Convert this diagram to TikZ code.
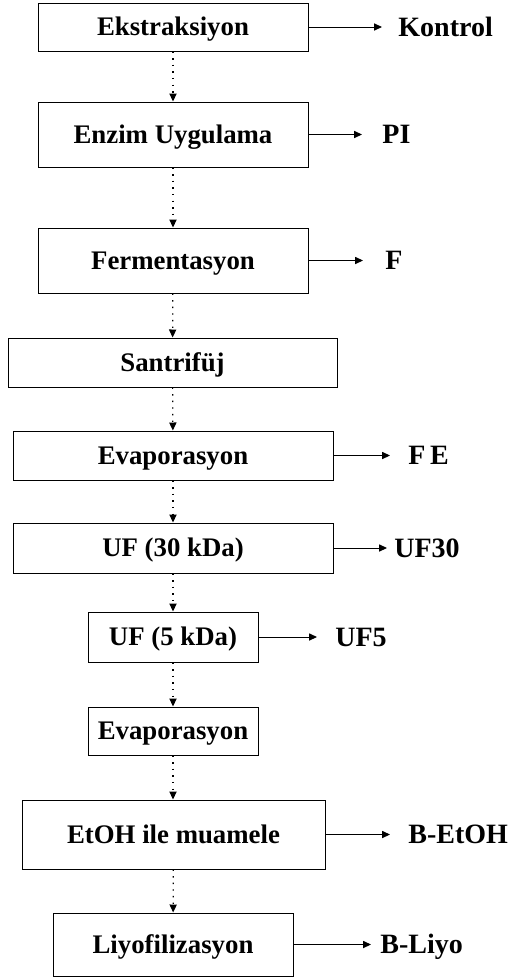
\documentclass[tikz,border=0pt]{standalone}
\usepackage{fontspec}
\setmainfont{Liberation Serif}
\usetikzlibrary{arrows.meta}

\tikzset{
    box/.style={draw, line width=0.5pt, inner sep=0pt,
        font=\fontsize{13.4pt}{16pt}\selectfont\bfseries, text height=8.9pt, text depth=0pt},
    result/.style={anchor=west, inner sep=0pt,
        font=\fontsize{14pt}{17pt}\selectfont\bfseries, text height=9.3pt, text depth=0pt},
    flow/.style={line width=0.6pt, dash pattern=on 0.7pt off 2.6pt,
        -{Triangle[length=4pt,width=3.6pt]}},
    yield/.style={line width=0.5pt, -{Triangle[length=4pt,width=3.6pt]}}
}

\begin{document}
\begin{tikzpicture}[x=0.5pt, y=-0.5pt]
            \useasboundingbox (0,0) rectangle (520,980);

            % process steps
            \node (ekstr) at (173,27) [box, minimum width=135pt, minimum height=24pt] {Ekstraksiyon};
            \node (enzim) at (173,134.5) [box, minimum width=135pt, minimum height=32.5pt] {Enzim Uygulama};
            \node (ferm) at (173,260.5) [box, minimum width=135pt, minimum height=32.5pt] {Fermentasyon};
            \node (santr) at (172.5,362.5) [box, minimum width=164.5pt, minimum height=24.5pt] {Santrifüj};
            \node (evap1) at (173,455.5) [box, minimum width=160pt, minimum height=24.5pt] {Evaporasyon};
            \node (uf30) at (173,548) [box, minimum width=160pt, minimum height=25pt] {UF (30 kDa)};
            \node (uf5) at (173,637) [box, minimum width=85pt, minimum height=25pt] {UF (5 kDa)};
            \node (evap2) at (173,731) [box, minimum width=85pt, minimum height=24pt] {Evaporasyon};
            \node (etoh) at (173.5,834.5) [box, minimum width=151.5pt, minimum height=34.5pt] {EtOH ile muamele};
            \node (liyo) at (173,944.5) [box, minimum width=120pt, minimum height=31.5pt] {Liyofilizasyon};

            % samples taken out
            \node (kontrol) at (398,27) [result] {Kontrol};
            \node (pi) at (382,134.5) [result] {PI};
            \node (f) at (385,260.5) [result] {F};
            \node (fe) at (408,455.5) [result] {F\,E};
            \node (suf30) at (394,548) [result] {UF30};
            \node (suf5) at (335,637) [result] {UF5};
            \node (betoh) at (408,834.5) [result] {B-EtOH};
            \node (bliyo) at (380,944.5) [result] {B-Liyo};

            \draw[flow] (ekstr) -- (enzim);
            \draw[flow] (enzim) -- (ferm);
            \draw[flow] (ferm) -- (santr);
            \draw[flow] (santr) -- (evap1);
            \draw[flow] (evap1) -- (uf30);
            \draw[flow] (uf30) -- (uf5);
            \draw[flow] (uf5) -- (evap2);
            \draw[flow] (evap2) -- (etoh.north -| evap2);
            \draw[flow] (etoh) -- (liyo);

            \draw[yield, shorten >=8pt] (ekstr.east) -- (kontrol.west);
            \draw[yield, shorten >=10pt] (enzim.east) -- (pi.west);
            \draw[yield, shorten >=11pt] (ferm.east) -- (f.west);
            \draw[yield, shorten >=9pt] (evap1.east) -- (fe.west);
            \draw[yield, shorten >=3.5pt] (uf30.east) -- (suf30.west);
            \draw[yield, shorten >=9pt] (uf5.east) -- (suf5.west);
            \draw[yield, shorten >=9pt] (etoh.east) -- (betoh.west);
            \draw[yield, shorten >=4.5pt] (liyo.east) -- (bliyo.west);
\end{tikzpicture}
\end{document}
